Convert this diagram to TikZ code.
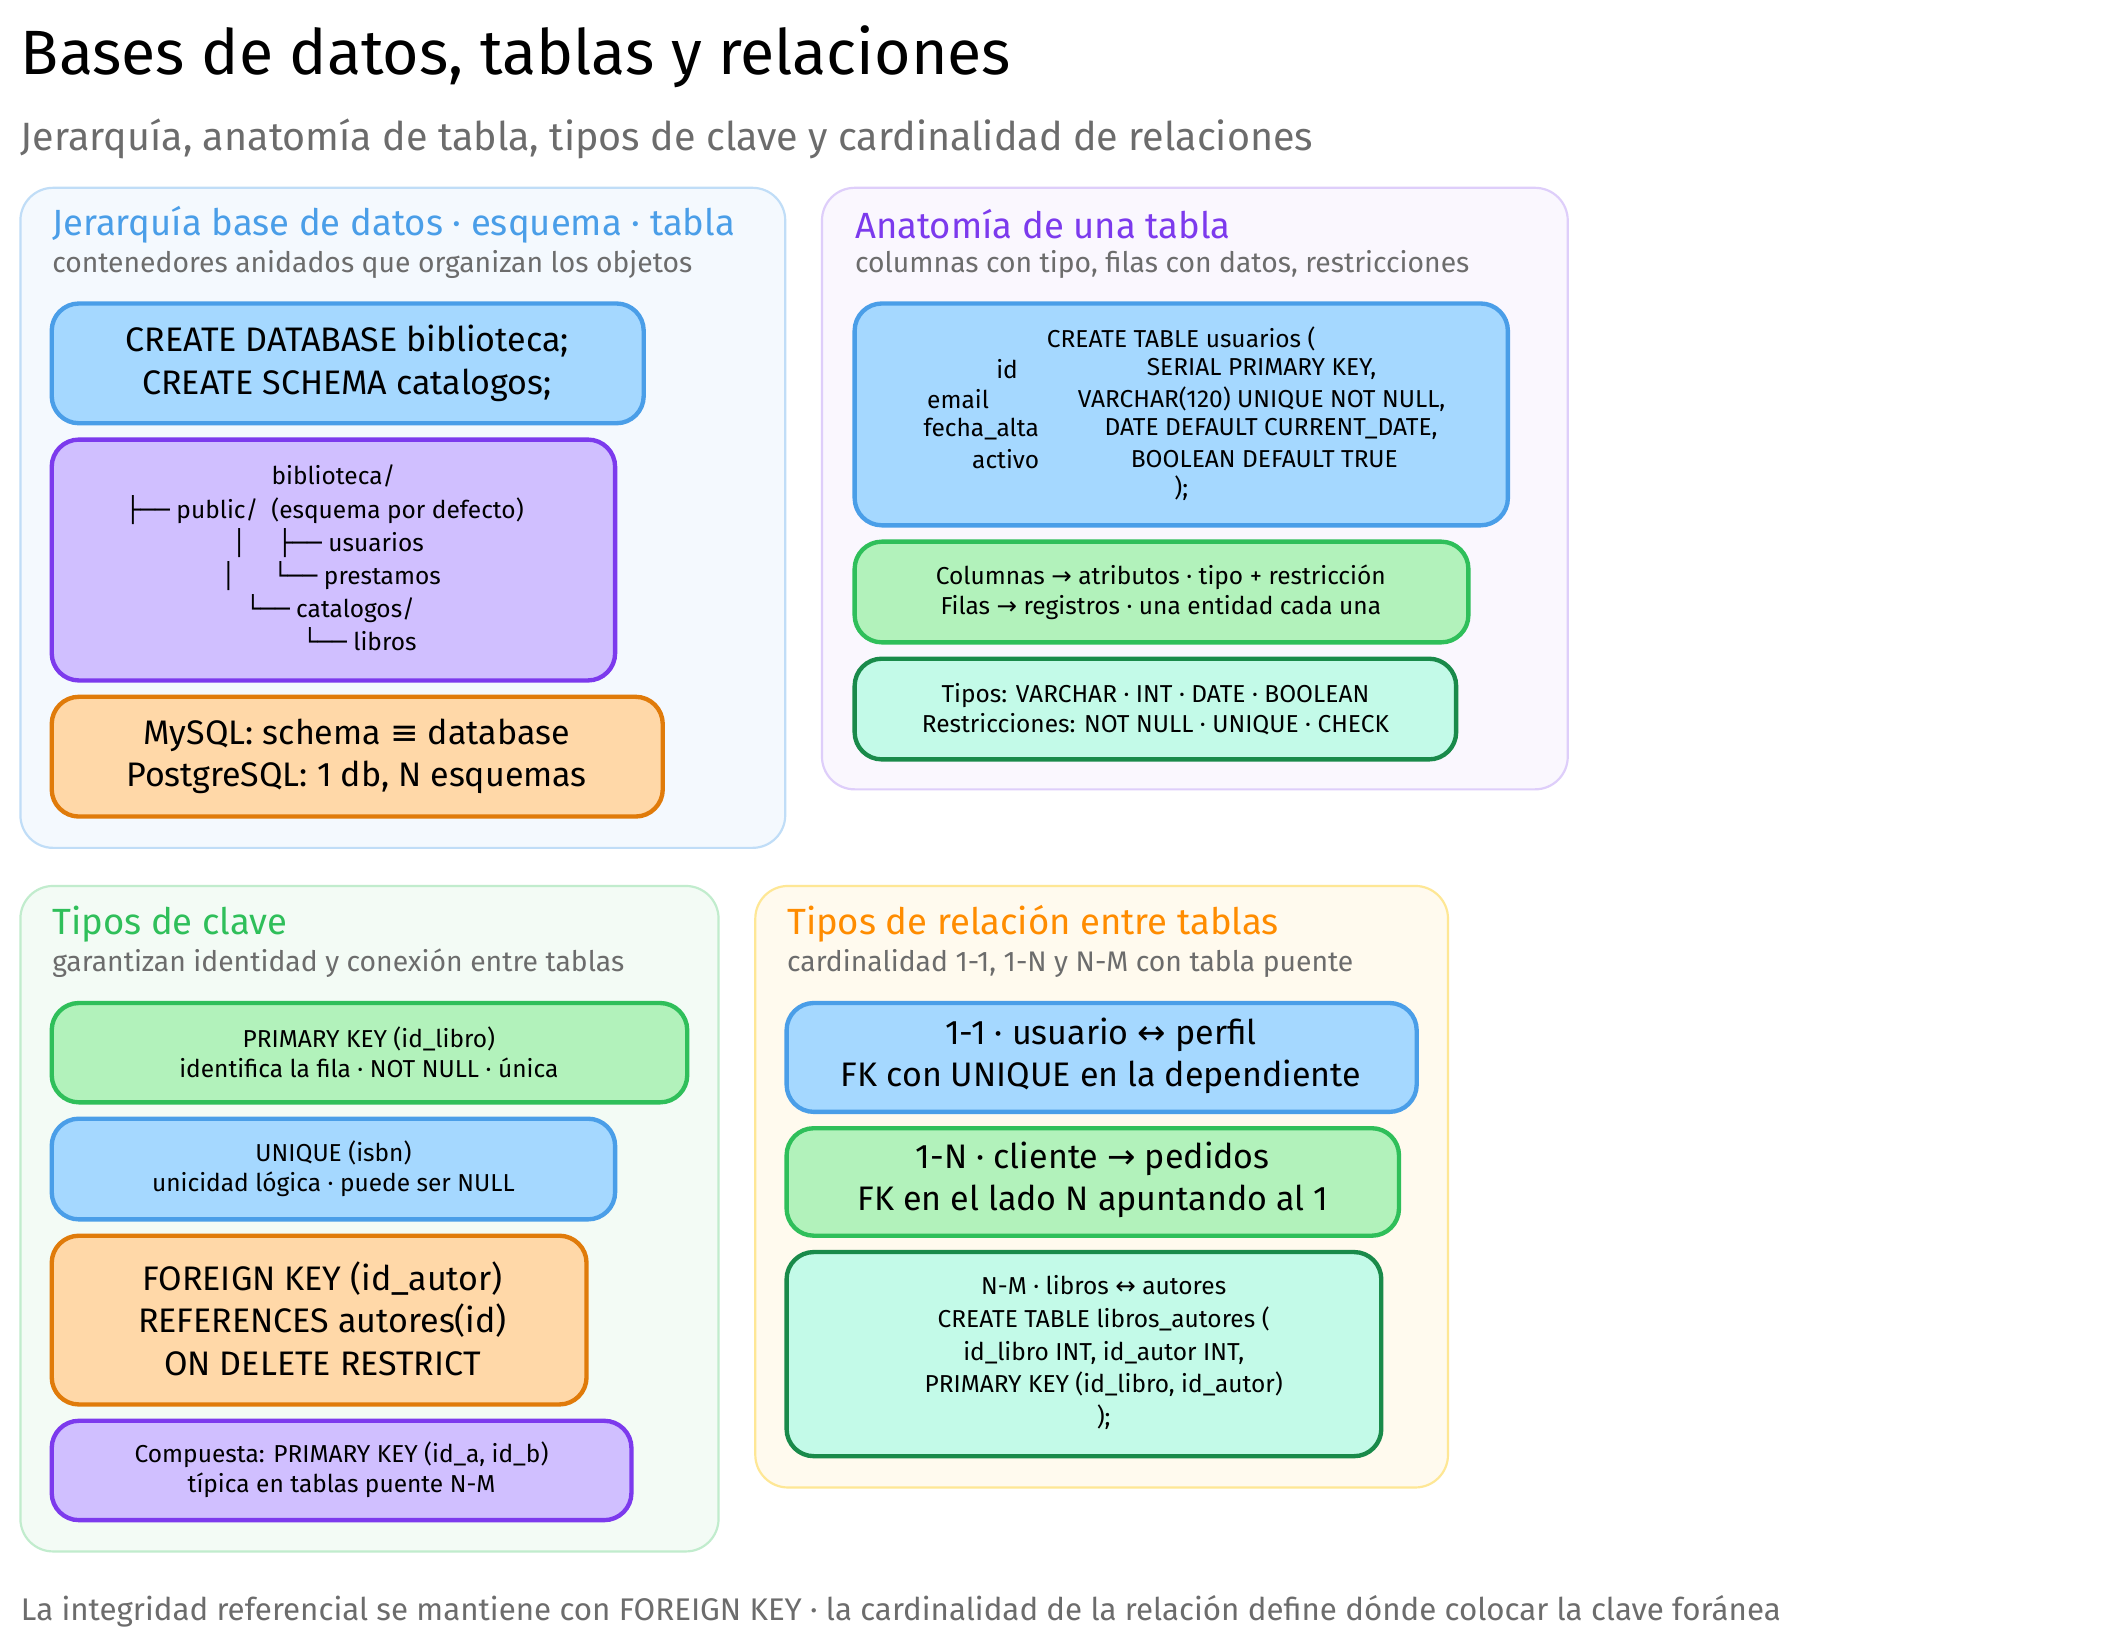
\documentclass[tikz,border=0pt]{standalone}
\usepackage{fontspec}
\setmainfont{Fira Sans}
\newfontfamily\sym{DejaVu Sans}
\begin{document}
\begin{tikzpicture}[x=0.5pt,y=-0.5pt,
 panel/.style={rounded corners=12pt,line width=0.8pt},
 box/.style={rounded corners=10pt,line width=1.6pt},
 ptitle/.style={anchor=west,inner sep=0pt,font=\fontsize{13.4}{15}\selectfont},
 psub/.style={anchor=west,inner sep=0pt,text=gray!85!black,font=\fontsize{10.4}{12}\selectfont},
 big/.style={font=\fontsize{12.5}{15.5}\selectfont},
 sm/.style={font=\fontsize{9}{11}\selectfont},
 bl/.style={fill=blue0,draw=blue1},
 pu/.style={fill=pur0,draw=pur1},
 or/.style={fill=ora0,draw=ora1},
 gr/.style={fill=gre0,draw=gre1},
 te/.style={fill=tea0,draw=tea1}]
\definecolor{blue0}{HTML}{A5D8FF}\definecolor{blue1}{HTML}{4A9EE8}
\definecolor{pur0}{HTML}{D0BFFF}\definecolor{pur1}{HTML}{7C3AED}
\definecolor{ora0}{HTML}{FFD8A8}\definecolor{ora1}{HTML}{E07B0A}
\definecolor{gre0}{HTML}{B2F2BB}\definecolor{gre1}{HTML}{2FBF5A}
\definecolor{tea0}{HTML}{C3FAE8}\definecolor{tea1}{HTML}{198A4A}
\useasboundingbox[fill=white] (0,0) rectangle (1560,1207);
\node[anchor=west,inner sep=0pt,font=\fontsize{23}{27}\selectfont] (t) at (15,42) {Bases de datos, tablas y relaciones};
\node[anchor=west,inner sep=0pt,text=gray!85!black,font=\fontsize{14.5}{17}\selectfont] (st) at (15,102) {Jerarquía, anatomía de tabla, tipos de clave y cardinalidad de relaciones};
% panel 1
\draw[panel,draw=blue1!35,fill=blue1!6] (15,138) rectangle (577,623);
\node[ptitle,text=blue1] (p1t) at (38,165) {Jerarquía base de datos · esquema · tabla};
\node[psub] (p1s) at (38,194) {contenedores anidados que organizan los objetos};
\draw[box,bl] (38,223) rectangle (473,311);
\node[big,align=center] (a1) at (255,267) {CREATE DATABASE biblioteca;\\CREATE SCHEMA catalogos;};
\draw[box,pu] (38,323) rectangle (452,500);
\node[sm] (tr1) at (245,350) {biblioteca/};
\node[sm,anchor=west,inner sep=0pt] (tr2) at (92,375) {{\sym ├──} public/\ \ (esquema por defecto)};
\node[sm,anchor=west,inner sep=0pt] (tr3) at (170,399) {{\sym │}\quad\ {\sym ├──} usuarios};
\node[sm,anchor=west,inner sep=0pt] (tr4) at (162,423) {{\sym │}\quad\ \ {\sym └──} prestamos};
\node[sm,anchor=west,inner sep=0pt] (tr5) at (180,447) {{\sym └──} catalogos/};
\node[sm,anchor=west,inner sep=0pt] (tr6) at (222,470) {{\sym └──} libros};
\draw[box,or] (38,512) rectangle (487,600);
\node[big,align=center] (a3) at (262,556) {MySQL: schema {\sym ≡} database\\PostgreSQL: 1 db, N esquemas};
% panel 2
\draw[panel,draw=pur1!25,fill=pur1!4] (604,138) rectangle (1152,580);
\node[ptitle,text=pur1] (p2t) at (628,165) {Anatomía de una tabla};
\node[psub] (p2s) at (628,194) {columnas con tipo, filas con datos, restricciones};
\draw[box,bl] (628,223) rectangle (1108,386);
\node[sm] (c0) at (868,249) {CREATE TABLE usuarios (};
\node[sm] (c1a) at (740,271) {id};\node[sm] (c1b) at (927,271) {SERIAL PRIMARY KEY,};
\node[sm] (c2a) at (704,293) {email};\node[sm] (c2b) at (927,293) {VARCHAR(120) UNIQUE NOT NULL,};
\node[sm] (c3a) at (721,315) {fecha\_alta};\node[sm] (c3b) at (934,315) {DATE DEFAULT CURRENT\_DATE,};
\node[sm] (c4a) at (739,337) {activo};\node[sm] (c4b) at (929,337) {BOOLEAN DEFAULT TRUE};
\node[sm] (c5) at (868,359) {);};
\draw[box,gr] (628,398) rectangle (1079,472);
\node[sm,align=center] (b2) at (853,435) {Columnas {\sym →} atributos · tipo + restricción\\Filas {\sym →} registros · una entidad cada una};
\draw[box,te] (628,484) rectangle (1070,558);
\node[sm,align=center] (b3) at (849,521) {Tipos: VARCHAR · INT · DATE · BOOLEAN\\Restricciones: NOT NULL · UNIQUE · CHECK};
% panel 3
\draw[panel,draw=gre1!30,fill=gre1!6] (15,651) rectangle (528,1140);
\node[ptitle,text=gre1] (p3t) at (38,679) {Tipos de clave};
\node[psub] (p3s) at (38,708) {garantizan identidad y conexión entre tablas};
\draw[box,gr] (38,737) rectangle (505,810);
\node[sm,align=center] (k1) at (271,773) {PRIMARY KEY (id\_libro)\\identifica la fila · NOT NULL · única};
\draw[box,bl] (38,822) rectangle (452,896);
\node[sm,align=center] (k2) at (245,859) {UNIQUE (isbn)\\unicidad lógica · puede ser NULL};
\draw[box,or] (38,908) rectangle (431,1032);
\node[big,align=center] (k3) at (237,969) {FOREIGN KEY (id\_autor)\\REFERENCES autores(id)\\ON DELETE RESTRICT};
\draw[box,pu] (38,1044) rectangle (464,1117);
\node[sm,align=center] (k4) at (251,1080) {Compuesta: PRIMARY KEY (id\_a, id\_b)\\típica en tablas puente N-M};
% panel 4
\draw[panel,draw=yellow!60!orange!40,fill=yellow!50!orange!6] (555,651) rectangle (1064,1093);
\node[ptitle,text=orange!90!yellow] (p4t) at (578,679) {Tipos de relación entre tablas};
\node[psub] (p4s) at (578,708) {cardinalidad 1-1, 1-N y N-M con tabla puente};
\draw[box,bl] (578,737) rectangle (1041,817);
\node[big,align=center] (r1) at (809,776) {1-1 · usuario {\sym ↔} perfil\\FK con UNIQUE en la dependiente};
\draw[box,gr] (578,829) rectangle (1028,908);
\node[big,align=center] (r2) at (803,867) {1-N · cliente {\sym →} pedidos\\FK en el lado N apuntando al 1};
\draw[box,te] (578,920) rectangle (1015,1070);
\node[sm,align=center,font=\fontsize{9}{12}\selectfont] (r3) at (811,994) {N-M · libros {\sym ↔} autores\\CREATE TABLE libros\_autores (\\id\_libro INT, id\_autor INT,\\PRIMARY KEY (id\_libro, id\_autor)\\);};
\node[psub,font=\fontsize{11.5}{13}\selectfont] (ft) at (15,1184) {La integridad referencial se mantiene con FOREIGN KEY · la cardinalidad de la relación define dónde colocar la clave foránea};
\end{tikzpicture}
\end{document}
